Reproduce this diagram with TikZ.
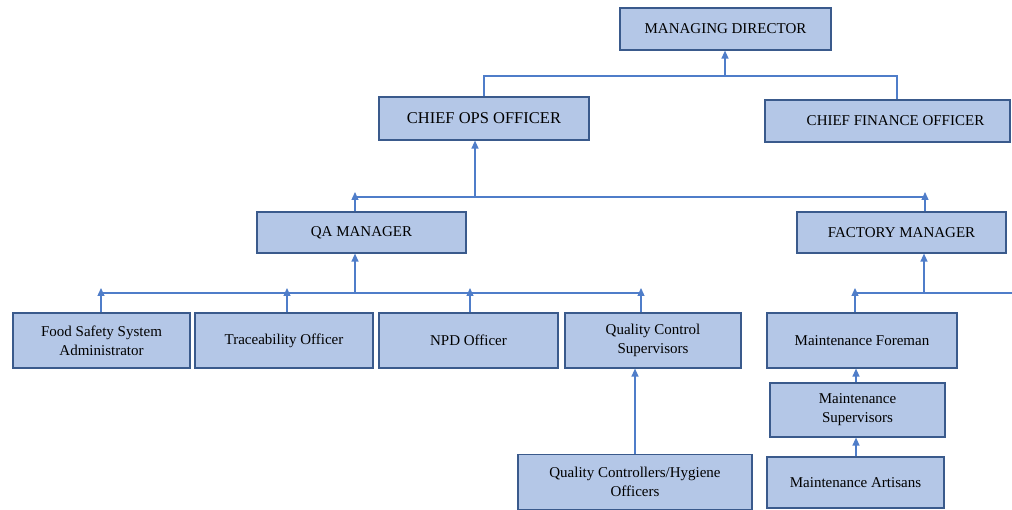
\documentclass[tikz,border=0pt]{standalone}
\usepackage{fontspec}
\setmainfont{Liberation Serif}
\usetikzlibrary{arrows.meta}
\definecolor{boxfill}{HTML}{B4C7E7}
\definecolor{boxline}{HTML}{3A5A8C}
\definecolor{conncol}{HTML}{4F7DC9}
\tikzset{
  box/.style={draw=boxline, line width=1.2pt, fill=boxfill, inner sep=0pt, align=center,
    font=\fontsize{15}{19}\selectfont, text=black},
  conn/.style={draw=conncol, line width=1.3pt},
  arr/.style={conn, -{Triangle[length=8pt,width=7pt]}},
}
\begin{document}
\begin{tikzpicture}[x=1pt,y=-1pt]
\useasboundingbox (0,0) rectangle (1012,510);
% boxes
\node[box, minimum width=211pt, minimum height=42pt] (md) at (725.5,29) {MANAGING DIRECTOR};
\node[box, minimum width=210pt, minimum height=43pt, font=\fontsize{16.5}{19}\selectfont] (cop) at (484,118.5) {CHIEF OPS OFFICER};
\node[box, minimum width=245pt, minimum height=42pt] (cfo) at (887.5,121) {\hspace*{16pt}CHIEF FINANCE OFFICER};
\node[box, minimum width=209pt, minimum height=41pt] (qa) at (361.5,232.5) {QA MANAGER};
\node[box, minimum width=209pt, minimum height=41pt] (fm) at (901.5,232.5) {FACTORY MANAGER};
\node[box, minimum width=177pt, minimum height=55pt] (fss) at (101.5,340.5) {Food Safety System\\Administrator};
\node[box, minimum width=178pt, minimum height=55pt] (tr) at (284,340.5) {Traceability Officer};
\node[box, minimum width=179pt, minimum height=55pt] (npd) at (468.5,340.5) {NPD Officer};
\node[box, minimum width=176pt, minimum height=55pt] (qcs) at (653,340.5) {Quality Control\\Supervisors};
\node[box, minimum width=234pt, minimum height=55pt] (qch) at (635,482) {Quality Controllers/Hygiene\\Officers};
\node[box, minimum width=190pt, minimum height=55pt] (mf) at (862,340.5) {Maintenance Foreman};
\node[box, minimum width=175pt, minimum height=54pt] (ms) at (857.5,410) {Maintenance\\Supervisors};
\node[box, minimum width=177pt, minimum height=51pt] (ma) at (855.5,482.5) {Maintenance Artisans};
% level 1 connectors
\coordinate (j1) at (725,76);
\coordinate (j1r) at (897,76);
\draw[conn] (cop.north) |- (j1r) -- (j1r |- cfo.north);
\draw[arr] (j1) -- (j1 |- md.south);
% level 2
\coordinate (j2) at (475,197);
\coordinate (j2l) at (355,197);
\coordinate (j2r) at (925,197);
\coordinate (t2l) at (355,192);
\coordinate (t2r) at (925,192);
\draw[conn] (j2l) -- (j2r);
\draw[arr] (j2) -- (j2 |- cop.south);
\draw[arr] (t2l |- qa.north) -- (t2l);
\draw[arr] (t2r |- fm.north) -- (t2r);
% level 3 QA
\coordinate (j3) at (355,293);
\coordinate (j3l) at (101,293);
\coordinate (j3r) at (641,293);
\draw[conn] (j3l) -- (j3r);
\draw[arr] (j3) -- (j3 |- qa.south);
\coordinate (ta) at (101,288);
\coordinate (tb) at (287,288);
\coordinate (tc) at (470,288);
\coordinate (td) at (641,288);
\draw[arr] (ta |- fss.north) -- (ta);
\draw[arr] (tb |- tr.north) -- (tb);
\draw[arr] (tc |- npd.north) -- (tc);
\draw[arr] (td |- qcs.north) -- (td);
% level 3 factory
\coordinate (j4) at (924,293);
\coordinate (j4l) at (855,293);
\coordinate (j4r) at (1012,293);
\coordinate (te) at (855,288);
\draw[conn] (j4l) -- (j4r);
\draw[arr] (j4) -- (j4 |- fm.south);
\draw[arr] (te |- mf.north) -- (te);
% chains
\coordinate (xm) at (856,0);
\draw[arr] (xm |- ms.north) -- (xm |- mf.south);
\draw[arr] (xm |- ma.north) -- (xm |- ms.south);
\coordinate (xq) at (635,0);
\draw[arr] (xq |- qch.north) -- (xq |- qcs.south);
\end{tikzpicture}
\end{document}
